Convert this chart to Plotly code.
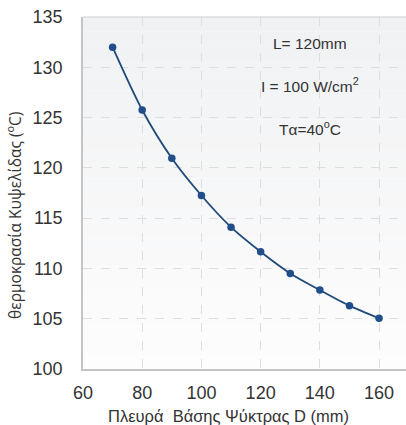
import plotly.graph_objects as go

# Heat sink base side D (mm) vs. cell temperature (°C)
side_mm = [70, 80, 90, 100, 110, 120, 130, 140, 150, 160]
cell_temp_c = [132.0, 125.75, 120.95, 117.25, 114.1, 111.65, 109.5, 107.85, 106.3, 105.05]

x_ticks = [60, 80, 100, 120, 140, 160]
y_ticks = [100, 105, 110, 115, 120, 125, 130, 135]

notes = ["L= 120mm", "I = 100 W/cm<sup>2</sup>", "Tα=40<sup>o</sup>C"]
y_title = "θερμοκρασία Κυψελίδας (<sup>o</sup>C)"
x_title = "Πλευρά\u00a0 Βάσης Ψύκτρας D (mm)"

FONT = "Liberation Sans, Arial, sans-serif"
TEXT = "#333333"
LINE = "#1f4a7a"
GRID = "#dedede"

fig = go.Figure()

fig.add_trace(go.Scatter(
    x=side_mm, y=cell_temp_c,
    mode="lines+markers",
    line=dict(color=LINE, width=1.8, shape="spline", smoothing=0.8),
    marker=dict(color="#1f4e8a", size=7.5),
    showlegend=False,
    hoverinfo="x+y",
))

# soft vertical gradient behind the plot area
n_bands = 24
top = (240, 241, 243)
bot = (253, 253, 253)
shapes = []
for i in range(n_bands):
    t = i / (n_bands - 1)
    c = tuple(round(top[k] + (bot[k] - top[k]) * t) for k in range(3))
    shapes.append(dict(
        type="rect", xref="paper", yref="paper",
        x0=0, x1=1, y0=1 - (i + 1) / n_bands, y1=1 - i / n_bands,
        fillcolor="rgb(%d,%d,%d)" % c, line=dict(width=0), layer="below",
    ))
# top border line
shapes.append(dict(type="line", xref="paper", yref="paper", x0=0, x1=1, y0=1, y1=1,
                   line=dict(color="#cfcfcf", width=1.2), layer="above"))

annotations = []
for txt, yv in zip(notes, [132.4, 128.25, 124.0]):
    annotations.append(dict(
        x=136.8, y=yv, xref="x", yref="y", text=txt, showarrow=False,
        font=dict(family=FONT, size=15.5, color=TEXT),
    ))
# y-axis title, placed slightly below the plot's vertical centre
annotations.append(dict(
    x=0, y=0.435, xref="paper", yref="paper", xshift=-69, text=y_title,
    textangle=-90, showarrow=False, xanchor="center", yanchor="middle",
    font=dict(family="Open Sans, sans-serif", size=15.5, color=TEXT),
))
# x-axis title, under the tick labels
annotations.append(dict(
    x=0.449, y=0, xref="paper", yref="paper", yshift=-47, text=x_title,
    showarrow=False, xanchor="center", yanchor="middle",
    font=dict(family=FONT, size=16.5, color=TEXT),
))

fig.update_layout(
    width=406, height=425,
    margin=dict(l=83, r=0, t=17, b=56),
    paper_bgcolor="white",
    plot_bgcolor="rgba(0,0,0,0)",
    shapes=shapes,
    annotations=annotations,
    font=dict(family=FONT, size=14, color=TEXT),
    xaxis=dict(
        range=[60, 169.1], tickvals=x_ticks, ticktext=[str(v) for v in x_ticks],
        showgrid=True, gridcolor=GRID, griddash="dash", gridwidth=1,
        showline=True, linecolor="#c4c4c4", linewidth=1.5,
        zeroline=False, ticks="", ticklabelstandoff=7,
        tickfont=dict(family=FONT, size=18, color=TEXT),
    ),
    yaxis=dict(
        range=[100, 135], tickvals=y_ticks, ticktext=[str(v) for v in y_ticks],
        showgrid=True, gridcolor=GRID, griddash="dash", gridwidth=1,
        showline=True, linecolor="#c4c4c4", linewidth=1.5,
        zeroline=False, ticks="", ticklabelstandoff=15,
        tickfont=dict(family=FONT, size=18, color=TEXT),
    ),
)

fig.write_html("out.html")
